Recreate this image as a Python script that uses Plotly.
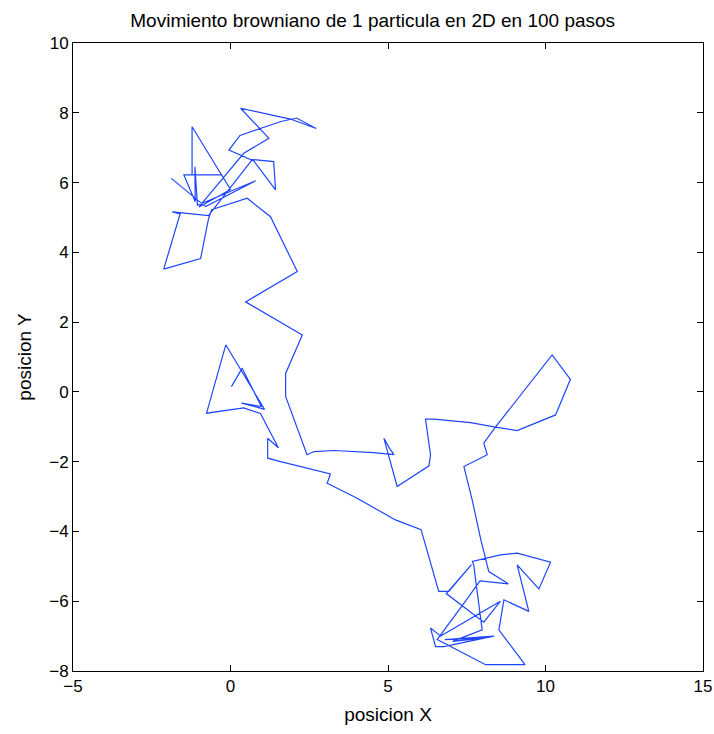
import plotly.graph_objects as go

# Path of the particle (x, y)
pos_x = [0.03, 0.37, 0.98, 0.35, 1.08, -0.15, -0.76, 0.42, 0.95, 1.52,
         1.18, 1.18, 1.59, 3.17, 3.07, 4.02, 5.24, 6.05, 6.61, 6.93,
         7.65, 6.85, 8.04, 8.57, 6.67, 6.35, 6.51, 6.77, 8.36, 6.80,
         8.10, 7.05, 7.99, 7.72, 7.68, 8.57, 9.10, 10.16, 9.79, 9.10,
         9.47, 8.68, 8.52, 9.35, 8.10, 6.56, 7.46, 7.92, 8.82, 8.20,
         7.95, 7.67, 7.41, 8.15, 8.04, 8.41, 10.21, 10.79, 10.32, 9.26,
         9.10, 8.41, 7.62, 6.46, 6.19, 6.35, 6.30, 5.29, 4.87, 5.05,
         5.19, 4.55, 3.28, 2.65, 2.43, 1.75, 1.75, 2.28, 0.48, 2.12,
         1.27, 0.53, -0.60, -0.70, -0.95, -2.12, -1.60, -1.85, -0.70, 0.69,
         1.37, 1.43, 0.74, -0.05, 0.30, 1.60, 2.10, 2.72, 1.90, 0.32,
         1.22, 0.42, -1.00, 0.00, -1.22, -1.22, -0.30, -1.48, -1.12, -1.13,
         -1.05, 0.80, -0.79, -1.88]
pos_y = [0.15, 0.68, -0.42, -0.32, -0.50, 1.35, -0.61, -0.46, -0.62, -1.60,
         -1.33, -1.90, -2.00, -2.35, -2.62, -3.05, -3.67, -3.95, -5.72, -5.72,
         -4.95, -5.78, -6.60, -6.00, -7.00, -6.77, -7.30, -7.30, -7.00, -7.10,
         -7.05, -7.15, -6.82, -4.96, -4.86, -4.67, -4.62, -4.88, -5.65, -4.96,
         -6.29, -5.96, -6.82, -7.82, -7.82, -7.10, -6.00, -5.42, -5.50, -5.15,
         -4.25, -3.09, -2.14, -1.80, -1.47, -1.01, 1.06, 0.36, -0.66, -1.07,
         -1.11, -1.01, -0.88, -0.78, -0.78, -1.80, -2.12, -2.71, -1.33, -1.62,
         -1.80, -1.74, -1.68, -1.71, -1.80, -0.13, 0.53, 1.63, 2.58, 3.45,
         5.02, 5.55, 5.22, 4.95, 3.82, 3.52, 5.10, 5.16, 5.05, 6.66,
         6.60, 5.79, 6.62, 6.93, 7.35, 7.75, 7.85, 7.55, 7.82, 8.13,
         7.27, 6.84, 5.30, 5.80, 7.60, 6.22, 6.22, 6.22, 5.45, 6.45,
         5.35, 6.05, 5.31, 6.12]

x_ticks = [-5, 0, 5, 10, 15]
y_ticks = [-8, -6, -4, -2, 0, 2, 4, 6, 8, 10]

title_text = "Movimiento browniano de 1 particula en 2D en 100 pasos"
x_label = "posicion X"
y_label = "posicion Y"

FONT = "Liberation Sans, Arial, sans-serif"

fig = go.Figure()
fig.add_trace(go.Scatter(x=pos_x, y=pos_y, mode="lines",
                         line=dict(color="rgb(30,70,255)", width=1.2),
                         hoverinfo="skip", showlegend=False))

axis_common = dict(showgrid=False, zeroline=False, showline=True,
                   linecolor="black", linewidth=1, mirror="ticks",
                   ticks="inside", ticklen=6, tickcolor="black",
                   automargin=False,
                   tickfont=dict(family=FONT, size=17, color="black"))

fig.update_layout(
    width=714, height=734,
    paper_bgcolor="white", plot_bgcolor="white",
    margin=dict(l=73, r=11, t=43, b=63),
    title=dict(text=title_text, x=0.522, xanchor="center", y=0.972, yanchor="middle",
               font=dict(family=FONT, size=19, color="black")),
    xaxis=dict(range=[-5, 15], tickvals=x_ticks,
               title=dict(text=x_label, standoff=12,
                          font=dict(family=FONT, size=19, color="black")),
               **axis_common),
    yaxis=dict(range=[-8, 10], tickvals=y_ticks,
               title=dict(text=y_label, standoff=12,
                          font=dict(family=FONT, size=19, color="black")),
               **axis_common),
)

fig.write_html("out.html")
